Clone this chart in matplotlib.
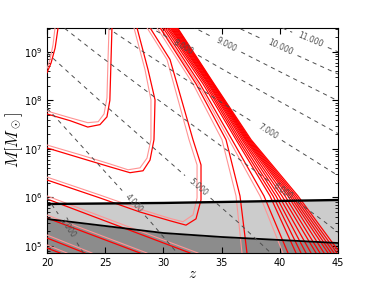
import numpy as np
import matplotlib
matplotlib.use('Agg')
import matplotlib.pyplot as plt

plt.rcParams['lines.scale_dashes'] = False
plt.rcParams['lines.dashed_pattern'] = [3, 3]

sigma_logM = [4.5, 5.0, 5.5, 6.0, 6.5, 7.0, 7.5, 8.0, 8.5, 9.0, 9.5, 10.0]
sigma_vals = [14.1, 13.35, 12.6, 11.8, 11.0, 10.2, 9.4, 8.6, 7.82, 7.05, 6.3, 5.6]
nu_levels = [3, 4, 5, 6, 7, 8, 9, 10, 11]
nu_label_z = [21.8, 27.56, 32.89, 40.27, 38.81, 31.68, 35.38, 40.02, 42.77]
nu_label_logM = [5.37, 5.91, 6.20, 6.11, 7.31, 9.08, 9.145, 9.10, 9.35]

# shaded regions (lower / upper black curves)
bound_z = [20, 25, 30, 35, 40, 45]
upper_logM = [5.866, 5.876, 5.887, 5.907, 5.928, 5.948]
lower_logM = [5.557, 5.413, 5.268, 5.186, 5.124, 5.062]

# red (solid) and pink (light) contour lines, (z, log10 M)
red_z = [
    [20.0, 20.35, 20.7, 20.95],
    [20.0, 22.0, 23.5, 24.55, 25.15, 25.4, 25.5, 25.58],
    [20.0, 22.84, 25.41, 27.13, 28.25, 28.85, 29.19, 29.28, 28.68, 27.73],
    [20.0, 24.55, 27.99, 30.57, 31.94, 32.80, 33.23, 33.23, 32.54, 30.57, 28.85],
    [20.0, 32.29], [20.0, 27.99], [20.0, 23.26], [20.0, 21.12],
]
red_logM = [
    [8.57, 8.77, 9.08, 9.495],
    [7.72, 7.58, 7.45, 7.50, 7.66, 8.0, 8.83, 9.495],
    [7.02, 6.815, 6.63, 6.51, 6.55, 6.77, 7.19, 8.01, 8.63, 9.495],
    [6.36, 5.99, 5.70, 5.52, 5.43, 5.56, 5.95, 6.67, 7.19, 8.84, 9.495],
    [5.969, 4.856], [5.577, 4.856], [5.165, 4.856], [4.959, 4.856],
]
pink_z = [
    [20.0, 20.26, 20.52, 20.69],
    [20.0, 22.0, 23.5, 24.4, 24.9, 25.15, 25.24, 25.33],
    [20.0, 22.84, 25.41, 26.96, 27.99, 28.59, 28.93, 28.93, 28.42, 27.47],
    [20.0, 24.55, 27.99, 30.40, 31.68, 32.54, 32.89, 32.89, 32.20, 30.31, 28.59],
    [20.0, 32.97], [20.0, 28.59], [20.0, 23.87], [20.0, 21.72],
]
pink_logM = [
    [8.65, 8.84, 9.15, 9.495],
    [7.78, 7.64, 7.54, 7.56, 7.72, 8.05, 8.83, 9.495],
    [7.08, 6.88, 6.69, 6.57, 6.61, 6.81, 7.19, 8.01, 8.63, 9.495],
    [6.42, 6.05, 5.76, 5.58, 5.50, 5.64, 5.99, 6.67, 7.19, 8.84, 9.495],
    [6.031, 4.856], [5.639, 4.856], [5.227, 4.856], [5.021, 4.856],
]

# steep bundle of red lines, crossings at fixed masses
bundle_logM = [9.495, 8.34, 7.19, 6.03, 4.856]
bundle_z = [
    [29.71, 32.80, 35.38, 36.58, 37.18],
    [29.97, 33.14, 35.89, 38.64, 40.70],
    [30.14, 33.40, 36.24, 39.16, 41.39],
    [30.31, 33.57, 36.41, 39.42, 41.82],
    [30.44, 33.70, 36.58, 39.67, 42.25],
    [30.57, 33.83, 36.75, 39.93, 42.68],
    [30.65, 33.92, 36.88, 40.19, 43.11],
    [30.74, 34.00, 37.01, 40.45, 43.45],
    [30.82, 34.09, 37.10, 40.70, 43.80],
    [30.91, 34.18, 37.18, 40.88, 44.14],
    [30.99, 34.22, 37.27, 41.05, 44.40],
    [31.08, 34.26, 37.35, 41.22, 44.66],
    [31.16, 34.30, 37.44, 41.39, 44.91],
    [31.21, 34.35, 37.53, 41.56, 45.17],
]
bundle_pink_z = [
    [29.45, 32.54, 35.03, 36.24, 36.75],
    [29.79, 32.97, 35.64, 38.30, 40.27],
]

fig = plt.figure(figsize=(3.76, 2.82), dpi=100)
ax = fig.add_axes([0.125, 0.103, 0.774, 0.798])
ax.set_yscale('log')

bz = np.array(bound_z)
ax.fill_between(bz, 1e4, 10**np.array(lower_logM), color='0.55', lw=0, zorder=1)
ax.fill_between(bz, 10**np.array(lower_logM), 10**np.array(upper_logM), color='0.8', lw=0, zorder=1)

pink = (1, 0.58, 0.58)
for zs, ls in zip(pink_z, pink_logM):
    ax.plot(zs, 10**np.array(ls), color=pink, lw=0.8, zorder=3)
for zs, ls in zip(red_z, red_logM):
    ax.plot(zs, 10**np.array(ls), color='red', lw=0.9, zorder=3)
for zs in bundle_pink_z:
    ax.plot(zs, 10**np.array(bundle_logM), color=pink, lw=0.8, zorder=3)
for zs in bundle_z:
    ax.plot(zs, 10**np.array(bundle_logM), color='red', lw=0.9, zorder=3)

ax.plot(bz, 10**np.array(upper_logM), color='k', lw=1.7, zorder=4)
ax.plot(bz, 10**np.array(lower_logM), color='k', lw=1.3, zorder=4)

zg = np.linspace(20, 45, 300)
lg = np.linspace(4.7, 9.7, 300)
Z, LG = np.meshgrid(zg, lg)
nu = 1.686 * (1 + Z) / np.interp(LG, sigma_logM, sigma_vals)
cs = ax.contour(Z, 10**LG, nu, levels=nu_levels, colors='0.3',
                linestyles='dashed', linewidths=0.7, zorder=5)
ax.clabel(cs, fmt='%.3f', fontsize=5.5, inline=True,
          manual=list(zip(nu_label_z, 10**np.array(nu_label_logM))))

ax.set_xlim(20, 45)
ax.set_ylim(7.2e4, 3.1e9)
ax.set_xticks([20, 25, 30, 35, 40, 45])
ax.tick_params(which='both', direction='in', top=True, right=True, labelsize=7)
ax.tick_params(which='major', length=4)
ax.tick_params(which='minor', length=2)
ax.set_xlabel('$z$', fontsize=11, labelpad=-1, math_fontfamily='cm')
ax.set_ylabel(r'$M[M_\odot]$', fontsize=12, labelpad=-1, math_fontfamily='cm')

fig.savefig('out.png', dpi=100)
